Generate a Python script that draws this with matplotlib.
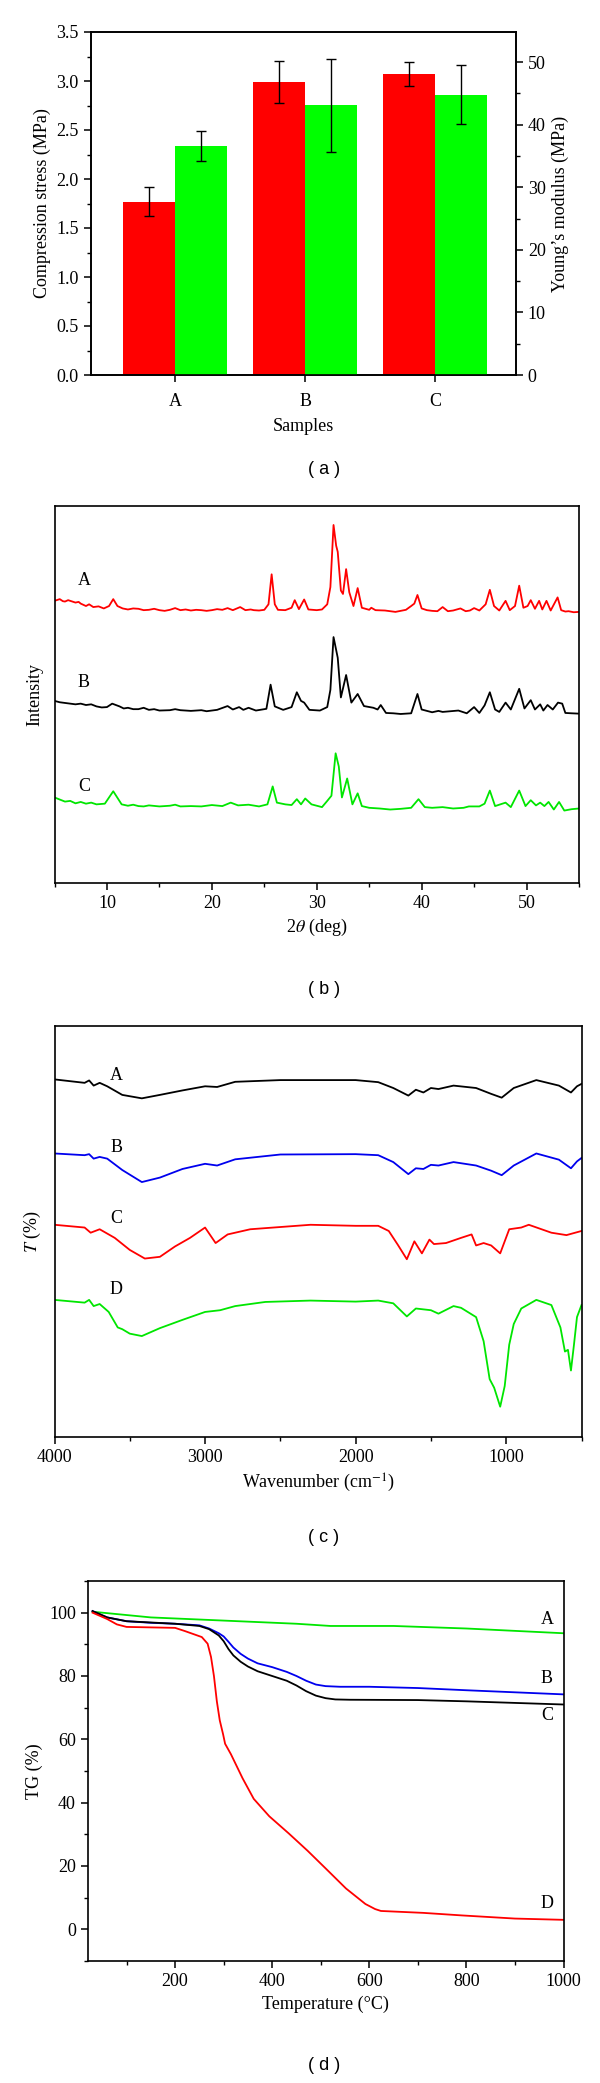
import numpy as np
import matplotlib
matplotlib.use("Agg")
import matplotlib.pyplot as plt
from matplotlib.ticker import MultipleLocator, FormatStrFormatter

plt.rcParams['font.family'] = ['Liberation Serif', 'DejaVu Serif']
plt.rcParams['mathtext.fontset'] = 'stix'
plt.rcParams['xtick.direction'] = 'out'
plt.rcParams['ytick.direction'] = 'out'

# ---- (a) mechanical properties ----
samples = ['A', 'B', 'C']
stress = [1.77, 2.99, 3.07]
stress_err = [0.15, 0.21, 0.125]
modulus = [36.6, 43.1, 44.8]
modulus_err = [2.4, 7.4, 4.65]

# ---- (b) XRD ----
xrd_a_x = [5.0, 5.3, 5.5, 5.8, 6.0, 6.3, 6.5, 7.0, 7.3, 7.5, 8.0, 8.3, 8.7, 9.2, 9.7, 10.2, 10.6,
           11.0, 11.5, 12.0, 12.5, 13.0, 13.5, 14.0, 14.5, 15.0, 15.5, 16.0, 16.5, 17.0, 17.5, 18.0,
           18.5, 19.0, 19.5, 20.0, 20.5, 21.0, 21.5, 22.0, 22.7, 23.2, 23.7, 24.0, 24.5,
           25.0, 25.4, 25.7, 26.0, 26.3, 27.0, 27.6, 27.9, 28.3, 28.8, 29.2, 30.0, 30.5, 31.0, 31.3,
           31.6, 31.85, 32.0, 32.3, 32.5, 32.8, 33.1, 33.5, 33.9, 34.3, 35.0, 35.2, 35.6, 36.5, 37.0,
           37.5, 38.0, 38.5, 39.0, 39.3, 39.6, 40.0, 40.5, 41.0, 41.5, 42.0, 42.5, 43.0, 43.7, 44.2,
           44.6, 45.0, 45.5, 46.1, 46.5, 46.9, 47.4, 48.0, 48.4, 48.9, 49.3, 49.7, 50.1, 50.4, 50.8,
           51.2, 51.5, 51.9, 52.3, 52.96, 53.3, 53.7, 54.0, 54.5, 55.0]
xrd_a_y = [818, 821, 823, 817, 816, 820, 818, 813, 815, 810, 803, 808, 800, 802, 796, 803, 823,
           803, 796, 793, 796, 795, 791, 792, 795, 791, 789, 792, 797, 791, 793, 790,
           792, 791, 789, 791, 794, 792, 797, 791, 800, 791, 793, 791, 790,
           792, 808, 895, 808, 792, 791, 798, 820, 794, 822, 793, 791, 793, 808, 858,
           1038, 978, 960, 848, 838, 910, 843, 803, 855, 798, 792, 798, 791, 790, 788,
           786, 789, 792, 803, 810, 835, 796, 791, 789, 788, 800, 788, 790, 796, 788,
           790, 797, 790, 808, 850, 803, 790, 818, 791, 803, 862, 798, 803, 820, 795,
           818, 793, 818, 790, 828, 791, 787, 788, 785, 786]

xrd_b_x = [5.0, 5.5, 6.0, 6.5, 7.0, 7.5, 8.0, 8.5, 9.0, 9.5, 10.0, 10.5, 11.2, 11.6, 12.0, 12.5,
           13.0, 13.5, 14.0, 14.5, 15.0, 16.0, 16.5, 17.0, 18.0, 19.0, 19.5,
           20.5, 21.5, 22.0, 22.6, 23.0, 23.5, 24.2, 25.2, 25.6, 26.0, 26.8, 27.6, 28.1, 28.5, 28.8,
           29.3, 30.3, 31.0, 31.3, 31.6, 32.0, 32.3, 32.8, 33.3, 33.9, 34.5, 35.4, 35.8, 36.1, 36.6,
           37.3, 38.0, 39.0, 39.6, 40.0, 41.0, 41.6, 42.0, 43.5, 44.3, 45.0, 45.5, 46.0, 46.5, 47.0,
           47.4, 48.0, 48.5, 49.3, 49.8, 50.4, 50.8, 51.3, 51.6, 52.0, 52.5, 53.0, 53.4, 53.7, 54.3, 55.0]
xrd_b_y = [528, 524, 522, 520, 518, 520, 516, 518, 512, 509, 510, 520, 512, 506, 508, 504,
           504, 508, 502, 504, 500, 501, 504, 501, 499, 501, 498,
           502, 513, 503, 510, 502, 508, 500, 505, 575, 512, 502, 510, 553, 528, 523,
           502, 500, 510, 560, 713, 653, 538, 603, 523, 548, 513, 508, 503, 516, 493,
           492, 490, 492, 548, 503, 495, 499, 496, 500, 492, 510, 493, 515, 553, 503,
           496, 523, 503, 563, 506, 530, 503, 518, 500, 516, 503, 523, 520, 493, 492, 491]

xrd_c_x = [5.0, 5.5, 6.0, 6.5, 7.0, 7.5, 8.0, 8.5, 9.0, 9.8, 10.6, 11.4, 12.0, 12.5, 13.0, 13.5,
           14.0, 15.0, 16.0, 16.5, 17.0, 18.0, 19.0, 20.0,
           21.0, 21.8, 22.5, 23.5, 24.5, 25.3, 25.8, 26.2, 27.0, 27.6, 28.1, 28.5, 28.9, 29.5, 30.5,
           31.0, 31.4, 31.8, 32.1, 32.4, 32.9, 33.4, 33.9, 34.3, 35.0, 36.0, 37.0, 38.0, 39.0, 39.7,
           40.3, 41.0, 42.0, 43.0, 44.0, 44.5, 45.5, 46.0, 46.5, 47.0, 48.0, 48.5, 49.3, 49.9, 50.4,
           50.9, 51.3, 51.7, 52.1, 52.6, 53.1, 53.6, 54.3, 55.0]
xrd_c_y = [248, 242, 236, 238, 231, 235, 230, 233, 228, 230, 266, 228, 224, 227, 223, 222,
           225, 222, 224, 227, 222, 223, 222, 226,
           223, 233, 225, 227, 222, 228, 280, 233, 228, 226, 243, 228, 245, 228, 220,
           238, 253, 376, 338, 248, 303, 228, 260, 223, 218, 216, 213, 215, 218, 243,
           220, 218, 220, 216, 218, 222, 222, 230, 268, 223, 233, 220, 268, 223, 240,
           225, 233, 223, 235, 213, 235, 210, 214, 216]

# ---- (c) FTIR ----
ir_x = [4000, 3800, 3770, 3740, 3700, 3650, 3550, 3420, 3300, 3150, 3000, 2920, 2800, 2500,
        2000, 1850, 1750, 1650, 1600, 1550, 1500, 1450, 1350, 1200, 1100, 1030, 950, 800,
        650, 570, 530, 500]
ir_a = [1038, 1028, 1035, 1020, 1028, 1018, 993, 983, 993, 1006, 1018, 1016, 1031, 1036,
        1036, 1030, 1013, 991, 1008, 1000, 1013, 1010, 1020, 1013, 996, 985, 1013, 1036,
        1020, 1000, 1018, 1025]
ir_b = [823, 818, 821, 808, 813, 808, 775, 740, 753, 778, 793, 788, 806, 820,
        821, 818, 798, 763, 780, 778, 790, 788, 798, 788, 773, 760, 788, 823,
        805, 780, 800, 810]

ir_c_x = [4000, 3800, 3760, 3700, 3600, 3500, 3400, 3300, 3200, 3100, 3000, 2930, 2850, 2700,
          2300, 2000, 1850, 1780, 1720, 1660, 1610, 1560, 1510, 1480, 1400, 1300, 1230, 1200,
          1150, 1100, 1040, 980, 900, 850, 700, 600, 500]
ir_c = [616, 608, 593, 603, 578, 543, 518, 523, 553, 578, 608, 563, 588, 603,
        616, 613, 613, 598, 558, 516, 568, 533, 573, 560, 563, 578, 588, 556,
        563, 556, 533, 603, 608, 616, 593, 586, 598]

ir_d_x = [4000, 3800, 3770, 3740, 3700, 3640, 3580, 3550, 3500, 3420, 3300, 3150, 3000, 2900,
          2800, 2600, 2300, 2000, 1850, 1750, 1660, 1600, 1500, 1450, 1350, 1300, 1200, 1150,
          1110, 1080, 1040, 1010, 980, 950, 900, 800, 700, 640, 610, 590, 570, 550, 530, 500]
ir_d = [398, 390, 398, 380, 386, 363, 318, 313, 300, 293, 316, 340, 363, 368,
        380, 392, 396, 393, 396, 388, 350, 373, 368, 358, 380, 375, 348, 278,
        168, 143, 88, 148, 268, 328, 373, 398, 383, 318, 248, 253, 193, 268, 348, 383]

# ---- (d) TG ----
tg_a_x = [30, 50, 150, 300, 450, 520, 650, 800, 1000]
tg_a = [100.3, 100.0, 98.5, 97.5, 96.5, 95.8, 95.8, 95.0, 93.5]
tg_b_x = [30, 60, 100, 150, 200, 250, 270, 290, 300, 310, 320, 335, 350, 370, 400, 430, 450,
          470, 490, 510, 540, 600, 700, 800, 1000]
tg_b = [100.5, 98.5, 97.3, 96.8, 96.5, 96.0, 95.0, 93.5, 92.5, 90.8, 89.0, 87.0, 85.5, 84.0,
        82.8, 81.3, 80.0, 78.5, 77.3, 76.8, 76.6, 76.6, 76.2, 75.5, 74.2]
tg_c_x = [30, 60, 100, 200, 250, 270, 290, 300, 310, 320, 335, 350, 370, 400, 430, 450, 470,
          490, 510, 530, 560, 700, 800, 1000]
tg_c = [100.5, 98.5, 97.3, 96.5, 95.8, 94.8, 92.8, 91.0, 88.5, 86.5, 84.5, 83.0, 81.5, 80.0,
        78.5, 77.0, 75.2, 73.8, 73.0, 72.6, 72.5, 72.4, 72.0, 71.0]
tg_d_x = [30, 60, 80, 100, 200, 220, 255, 267, 274, 280, 286, 292, 299, 303, 315, 339, 362,
          394, 434, 473, 513, 552, 592, 612, 624, 711, 790, 900, 1000]
tg_d = [100.0, 98.0, 96.3, 95.5, 95.2, 94.2, 92.3, 90.2, 86.0, 80.0, 72.0, 66.0, 61.5, 58.6,
        55.3, 47.7, 41.2, 35.7, 30.3, 24.8, 18.8, 12.9, 8.0, 6.4, 5.8, 5.2, 4.4, 3.4, 3.0]

W, H = 600, 2083
fig = plt.figure(figsize=(W / 100, H / 100), dpi=100)


def rect(x0, x1, y0, y1):
    return [x0 / W, 1 - y1 / H, (x1 - x0) / W, (y1 - y0) / H]


FS = 13
RED, GREEN, BLUE = '#ff0000', '#00e600', '#0000ee'


def style(ax):
    for s in ax.spines.values():
        s.set_linewidth(1.2)
    ax.tick_params(which='major', length=5, width=1.1, labelsize=FS)
    ax.tick_params(which='minor', length=3, width=1.0)


# (a)
ax = fig.add_axes(rect(90.5, 516, 32, 375))
x = np.arange(1, len(samples) + 1)
ekw = dict(elinewidth=1.0, capthick=1.0, ecolor='black')
ax.bar(x - 0.2, stress, 0.4, color='#ff0000', yerr=stress_err, capsize=3.5, error_kw=ekw)
ax.set_xlim(0.35, 3.62)
ax.set_ylim(0, 3.5)
ax.set_xticks(x)
ax.set_xticklabels(samples)
ax.tick_params(axis='x', length=0, pad=8)
ax.yaxis.set_major_locator(MultipleLocator(0.5))
ax.yaxis.set_minor_locator(MultipleLocator(0.25))
ax.yaxis.set_major_formatter(FormatStrFormatter('%.1f'))
ax.set_ylabel('Compression stress (MPa)', fontsize=FS)
ax.set_xlabel('Samples', fontsize=FS, labelpad=6)
style(ax)
ax2 = ax.twinx()
ax2.bar(x + 0.2, modulus, 0.4, color='#00ff00', yerr=modulus_err, capsize=3.5, error_kw=ekw)
ax2.set_ylim(0, 54.8)
ax2.yaxis.set_major_locator(MultipleLocator(10))
ax2.yaxis.set_minor_locator(MultipleLocator(5))
ax2.set_ylabel('Young\u2019s modulus (MPa)', fontsize=FS)
style(ax2)

# (b)
ax = fig.add_axes(rect(54.5, 579, 506, 883))
ax.plot(xrd_a_x, xrd_a_y, color=RED, lw=1.3)
ax.plot(xrd_b_x, xrd_b_y, color='black', lw=1.3)
ax.plot(xrd_c_x, xrd_c_y, color=GREEN, lw=1.3)
ax.set_xlim(5, 55)
ax.set_ylim(0, 1093)
ax.set_yticks([])
ax.xaxis.set_major_locator(MultipleLocator(10))
ax.xaxis.set_minor_locator(MultipleLocator(5))
ax.set_xlabel(r'2$\theta$ (deg)', fontsize=FS)
ax.set_ylabel('Intensity', fontsize=FS, labelpad=8)
for lab, yy in zip(['A', 'B', 'C'], [878, 580, 280]):
    ax.text(7.8, yy, lab, fontsize=FS, ha='center', va='center')
style(ax)

# (c)
ax = fig.add_axes(rect(54.5, 581.5, 1026, 1437))
ax.plot(ir_x, ir_a, color='black', lw=1.3)
ax.plot(ir_x, ir_b, color=BLUE, lw=1.3)
ax.plot(ir_c_x, ir_c, color=RED, lw=1.3)
ax.plot(ir_d_x, ir_d, color=GREEN, lw=1.3)
ax.set_xlim(4000, 500)
ax.set_ylim(0, 1193)
ax.set_yticks([])
ax.xaxis.set_major_locator(MultipleLocator(1000))
ax.xaxis.set_minor_locator(MultipleLocator(500))
ax.set_xlabel(r'Wavenumber (cm$^{-1}$)', fontsize=FS)
ax.set_ylabel(r'$T$ (%)', fontsize=FS, labelpad=8)
for lab, yy in zip(['A', 'B', 'C', 'D'], [1048, 840, 633, 428]):
    ax.text(3590, yy, lab, fontsize=FS, ha='center', va='center')
style(ax)

# (d)
ax = fig.add_axes(rect(87.7, 563.5, 1581, 1961))
ax.plot(tg_a_x, tg_a, color=GREEN, lw=1.3)
ax.plot(tg_b_x, tg_b, color=BLUE, lw=1.3)
ax.plot(tg_c_x, tg_c, color='black', lw=1.3)
ax.plot(tg_d_x, tg_d, color=RED, lw=1.3)
ax.set_xlim(20, 1000)
ax.set_ylim(-10, 110)
ax.xaxis.set_major_locator(MultipleLocator(200))
ax.xaxis.set_minor_locator(MultipleLocator(100))
ax.yaxis.set_major_locator(MultipleLocator(20))
ax.yaxis.set_minor_locator(MultipleLocator(10))
ax.set_xlabel('Temperature (\u00b0C)', fontsize=FS)
ax.set_ylabel('TG (%)', fontsize=FS)
for lab, yy in zip(['A', 'B', 'C', 'D'], [98, 79.3, 67.5, 8]):
    ax.text(966, yy, lab, fontsize=FS, ha='center', va='center')
style(ax)

for lab, yy in zip(['a', 'b', 'c', 'd'], [470, 989, 1538, 2066]):
    fig.text(324 / W, 1 - yy / H, '( %s )' % lab, fontsize=FS, ha='center', va='center',
             family='Liberation Sans')

fig.savefig('out.png', dpi=100)
